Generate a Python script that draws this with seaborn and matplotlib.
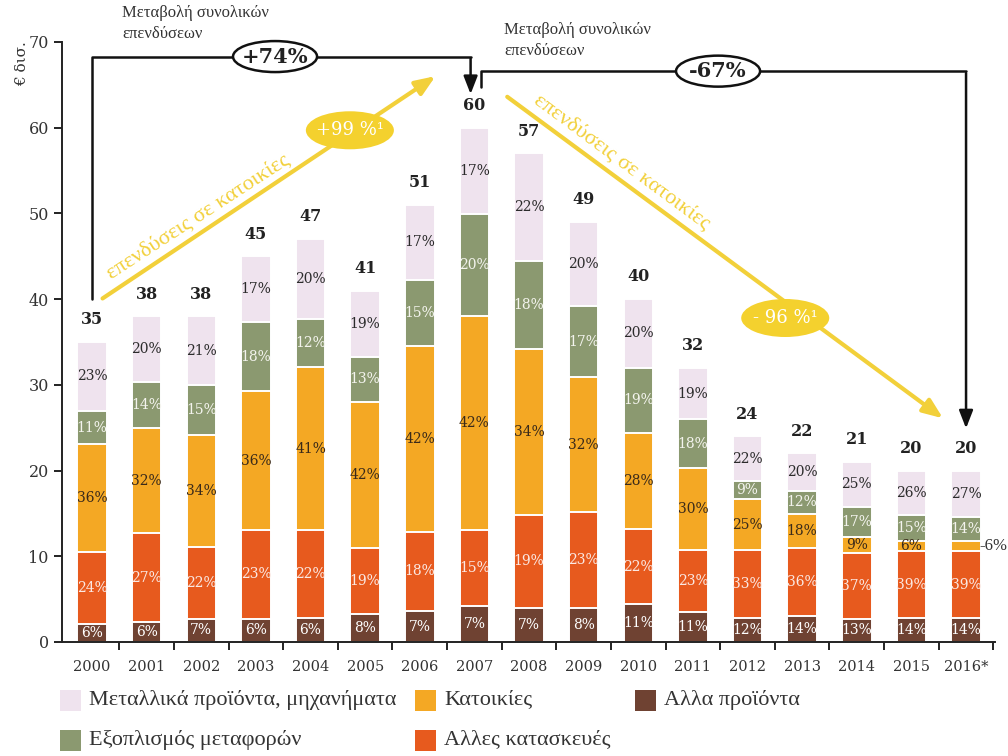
import numpy as np
import pandas as pd
import matplotlib
matplotlib.use("Agg")
import matplotlib.pyplot as plt
from matplotlib.patches import Ellipse, Rectangle
import seaborn as sns

# ---------------- data ----------------
years = ['2000', '2001', '2002', '2003', '2004', '2005', '2006', '2007', '2008',
         '2009', '2010', '2011', '2012', '2013', '2014', '2015', '2016*']
totals = [35, 38, 38, 45, 47, 41, 51, 60, 57, 49, 40, 32, 24, 22, 21, 20, 20]
other_products = [6, 6, 7, 6, 6, 8, 7, 7, 7, 8, 11, 11, 12, 14, 13, 14, 14]
other_construction = [24, 27, 22, 23, 22, 19, 18, 15, 19, 23, 22, 23, 33, 36, 37, 39, 39]
dwellings = [36, 32, 34, 36, 41, 42, 42, 42, 34, 32, 28, 30, 25, 18, 9, 6, 6]
transport = [11, 14, 15, 18, 12, 13, 15, 20, 18, 17, 19, 18, 9, 12, 17, 15, 14]
metal = [23, 20, 21, 17, 20, 19, 17, 17, 22, 20, 20, 19, 22, 20, 25, 26, 27]

series_names = ['Αλλα προϊόντα', 'Αλλες κατασκευές', 'Κατοικίες',
                'Εξοπλισμός μεταφορών', 'Μεταλλικά προϊόντα, μηχανήματα']
series_pct = [other_products, other_construction, dwellings, transport, metal]
colors = ['#6f4232', '#e75a1e', '#f4a824', '#8b9970', '#efe3ee']
text_colors = ['white', '#fbe9e4', '#3a2a1a', '#f4f4ee', '#2b2b2b']

total_change = ['+74%', '-67%']
dwell_change = ['+99 %¹', '- 96 %¹']

# ---------------- style ----------------
sns.set_theme(style="white")
plt.rcParams['font.family'] = ['DejaVu Serif']
GREEK = ['Liberation Serif', 'DejaVu Serif']

fig = plt.figure(figsize=(10.08, 7.56), dpi=100)
ax = fig.add_axes([62 / 1008, 1 - 642 / 756, (995 - 62) / 1008, 600 / 756])

pct = np.array(series_pct, dtype=float)
tot = np.array(totals, dtype=float)
vals = pct / pct.sum(axis=0) * tot
cum = np.cumsum(vals, axis=0)

BW = 0.54
# draw from top cumulative down, overlaying
for k in range(4, -1, -1):
    df = pd.DataFrame({'year': years, 'v': cum[k]})
    sns.barplot(data=df, x='year', y='v', order=years, color=colors[k],
                saturation=1, width=BW, edgecolor='white', linewidth=1.4, ax=ax)

# segment labels
n = len(years)
for i in range(n):
    for k in range(5):
        if i == n - 1 and k == 2:
            continue
        lo = cum[k - 1][i] if k > 0 else 0
        mid = (lo + cum[k][i]) / 2
        ax.text(i, mid, f"{int(series_pct[k][i])}%", ha='center', va='center',
                fontsize=10, color=text_colors[k])
    ax.text(i, tot[i] + 1.6, str(totals[i]), ha='center', va='bottom',
            fontsize=11.5, fontweight='bold', color='#222222')

# 2016 dwellings label outside
mid16 = (cum[1][n - 1] + cum[2][n - 1]) / 2
ax.text(16.24, mid16, '-6%', ha='left', va='center', fontsize=12, color='#333333',
        family=GREEK, clip_on=False)

# axes formatting
ax.set_xlim(-0.55, 16.53)
ax.set_ylim(0, 70)
ax.set_yticks(range(0, 71, 10))
ax.set_xlabel('')
ax.set_ylabel('')
for s in ['top', 'right']:
    ax.spines[s].set_visible(False)
for s in ['left', 'bottom']:
    ax.spines[s].set_color('#222222')
    ax.spines[s].set_linewidth(1.4)
ax.tick_params(axis='y', which='major', direction='out', length=6, width=1.4,
               color='#222222', labelsize=11.5, left=True, labelcolor='#333333')
ax.set_xticks(range(n))
ax.set_xticklabels(years)
ax.tick_params(axis='x', which='major', length=0, pad=13, labelsize=10.5,
               labelcolor='#333333')
ax.set_xticks(np.arange(n) + 0.5, minor=True)
ax.tick_params(axis='x', which='minor', direction='out', length=6, width=1.4,
               color='#222222', bottom=True)

fig.text(0.022, 0.945, '€ δισ.', rotation=90, ha='center', va='top', fontsize=11,
         color='#333333')

# ---------------- black brackets ----------------
lk = dict(color='#111111', lw=1.8, clip_on=False)
ax.plot([0, 0, 6.93], [40, 68.3, 68.3], **lk)
ax.annotate('', xy=(6.93, 63.6), xytext=(6.93, 68.4),
            arrowprops=dict(arrowstyle='-|>,head_width=0.35,head_length=0.9',
                            color='#111111', lw=1.8), annotation_clip=False)
ax.plot([7.12, 7.12, 16.0], [64.8, 66.6, 66.6], **lk)
ax.annotate('', xy=(16.0, 24.6), xytext=(16.0, 66.7),
            arrowprops=dict(arrowstyle='-|>,head_width=0.35,head_length=0.9',
                            color='#111111', lw=1.8), annotation_clip=False)

for (cx, cy), lab in zip([(3.35, 68.3), (11.46, 66.6)], total_change):
    e = Ellipse((cx, cy), width=84 / 54.6, height=31 / 8.57, facecolor='white',
                edgecolor='#111111', lw=1.8, clip_on=False, zorder=5)
    ax.add_patch(e)
    ax.text(cx, cy, lab, ha='center', va='center', fontsize=15, fontweight='bold',
            color='#222222', zorder=6, clip_on=False)

ax.text(0.55, 70.0, 'Μεταβολή συνολικών\nεπενδύσεων', ha='left', va='bottom',
        fontsize=12, color='#333333', linespacing=1.4, family=GREEK, clip_on=False)
ax.text(7.55, 68.0, 'Μεταβολή συνολικών\nεπενδύσεων', ha='left', va='bottom',
        fontsize=12, color='#333333', linespacing=1.4, family=GREEK, clip_on=False)

# ---------------- yellow arrows ----------------
yel = '#f2d03a'
ax.annotate('', xy=(6.33, 66.2), xytext=(0.15, 39.9),
            arrowprops=dict(arrowstyle='-|>,head_width=0.4,head_length=1.0',
                            color=yel, lw=3), annotation_clip=False)
ax.annotate('', xy=(15.62, 25.9), xytext=(7.56, 63.8),
            arrowprops=dict(arrowstyle='-|>,head_width=0.4,head_length=1.0',
                            color=yel, lw=3), annotation_clip=False)
ax.text(1.95, 49.6, 'επενδύσεις σε κατοικίες', rotation=33, ha='center',
        va='center', fontsize=16, color=yel, family=GREEK, rotation_mode='anchor')
ax.text(9.7, 56.0, 'επενδύσεις σε κατοικίες', rotation=-36.5, ha='center',
        va='center', fontsize=16, color=yel, family=GREEK, rotation_mode='anchor')
for (cx, cy), lab in zip([(4.72, 59.7), (12.69, 37.8)], dwell_change):
    e = Ellipse((cx, cy), width=88 / 54.6, height=38 / 8.57, facecolor='#f4d12e',
                edgecolor='none', clip_on=False, zorder=5)
    ax.add_patch(e)
    ax.text(cx, cy, lab, ha='center', va='center', fontsize=13, color='white',
            zorder=6)

# ---------------- legend (manual layout) ----------------
W, H = 1008.0, 756.0
leg_pos = {4: (60, 700), 2: (415, 700), 0: (635, 700),
           3: (60, 740), 1: (415, 740)}
sq = 21
for k, (px, py) in leg_pos.items():
    fig.add_artist(Rectangle((px / W, 1 - (py + sq / 2) / H), sq / W, sq / H,
                             transform=fig.transFigure, facecolor=colors[k],
                             edgecolor='none'))
    fig.text((px + sq + 8) / W, 1 - py / H, series_names[k], ha='left',
             va='center', fontsize=16, color='#333333', family=GREEK)

fig.savefig('out.png', dpi=100)
